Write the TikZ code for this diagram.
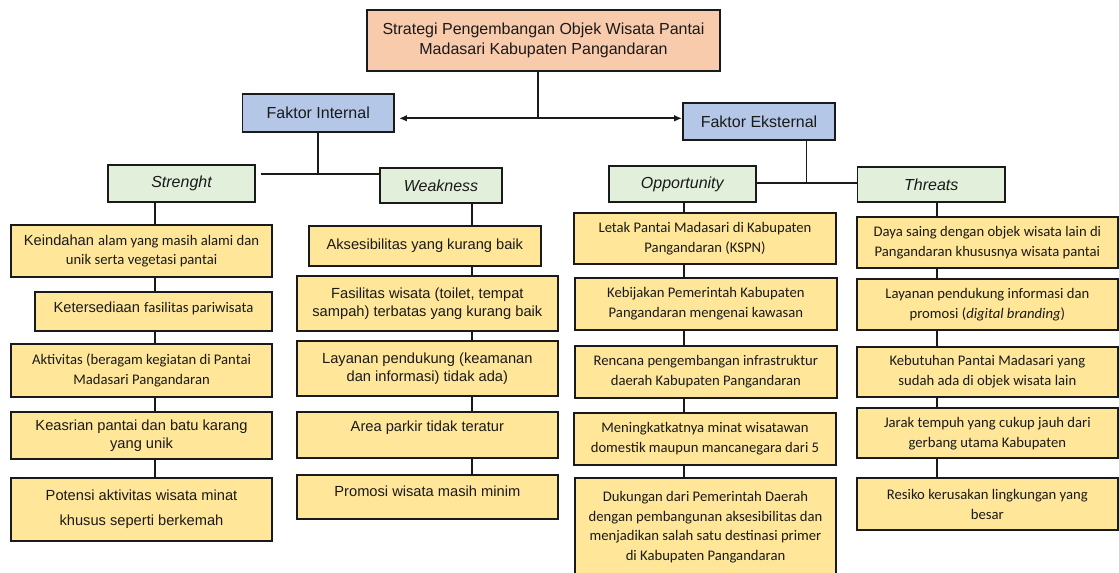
\documentclass[tikz,border=0pt]{standalone}
\usepackage{fontspec}
\setmainfont{Liberation Sans}
\newfontfamily\calibri{Carlito}
\usetikzlibrary{arrows.meta}
\definecolor{peach}{HTML}{F8CBAD}
\definecolor{bluebox}{HTML}{B4C7E7}
\definecolor{greenbox}{HTML}{E2EFDA}
\definecolor{yellowbox}{HTML}{FFE699}
\definecolor{ink}{HTML}{1A1A1A}
\tikzset{
  wh/.style 2 args={minimum width=#1*0.75pt, minimum height=#2*0.75pt},
  basebox/.style={draw=ink, line width=1.4pt, inner sep=0pt, align=center, text=ink},
  titlebox/.style={basebox, fill=peach, font=\fontsize{12}{15}\selectfont},
  factorbox/.style={basebox, fill=bluebox, font=\fontsize{12}{15}\selectfont},
  swotbox/.style={basebox, fill=greenbox, font=\fontsize{12}{15}\selectfont\itshape},
  itembox/.style={basebox, fill=yellowbox, font=\fontsize{11}{13.7}\selectfont},
  calbox/.style={basebox, fill=yellowbox, font=\calibri\fontsize{11}{15}\selectfont},
  conn/.style={draw=ink, line width=1.3pt},
  arr/.style={conn, -{Latex[length=6pt,width=5pt]}}
}
\begin{document}
\begin{tikzpicture}[x=0.75pt,y=-0.75pt]
\useasboundingbox (0,0) rectangle (1119,572);
\clip (0,0) rectangle (1119,572);

% top and factor nodes
\node[titlebox, wh={353}{61}] (top) at (543.5,40.5) {Strategi Pengembangan Objek Wisata Pantai\\Madasari Kabupaten Pangandaran};
\node[factorbox, wh={151.5}{38}] (fi) at (318.25,113) {Faktor Internal};
\node[factorbox, wh={152}{37}] (fe) at (759,121.5) {Faktor Eksternal};

\node[swotbox, wh={147}{37}] (st) at (181.5,183.5) {Strenght};
\node[swotbox, wh={122}{35}] (we) at (441,185.5) {Weakness};
\node[swotbox, wh={146.7}{36}] (op) at (682.3,184) {Opportunity};
\node[swotbox, wh={147.5}{35}] (th) at (931.25,184.5) {Threats};

% junction coordinates
\coordinate (j1) at (537.7,118.3);
\coordinate (j2) at (318.25,174);
\coordinate (j3) at (806.4,183);
\coordinate (cS) at (155,0);
\coordinate (cW) at (472.3,0);
\coordinate (cO) at (684.3,0);
\coordinate (cT) at (936.7,0);

% Strength items
\node[itembox, wh={261}{52}] (s1) at (141.5,251) {Keindahan {\calibri alam yang masih alami dan}\\[1pt]{\calibri unik serta vegetasi pantai}};
\node[itembox, wh={237}{39}] (s2) at (153.5,311.5) {\raisebox{2pt}[\height][\depth]{Ketersediaan {\calibri fasilitas pariwisata}}};
\node[calbox, wh={261}{53}] (s3) at (141.5,370.5) {Aktivitas (beragam kegiatan di Pantai\\Madasari Pangandaran};
\node[itembox, wh={261}{47}] (s4) at (141.5,435.5) {Keasrian pantai dan batu karang\\yang unik};
\node[itembox, wh={261}{63}, font=\fontsize{11}{18.75}\selectfont] (s5) at (141.5,509.5) {Potensi aktivitas wisata minat\\khusus seperti berkemah};

% Weakness items
\node[itembox, wh={231.7}{39.7}] (w1) at (424.85,245.85) {Aksesibilitas yang kurang baik};
\node[itembox, wh={261.3}{54.7}] (w2) at (427.35,303.35) {Fasilitas wisata (toilet, tempat\\sampah) terbatas yang kurang baik};
\node[itembox, wh={261.3}{54.7}] (w3) at (427.35,368.35) {Layanan pendukung (keamanan\\dan informasi) tidak ada)};
\node[itembox, wh={261.3}{46}] (w4) at (427.35,434.7) {\raisebox{5pt}[\height][\depth]{Area parkir tidak teratur}};
\node[itembox, wh={261.3}{44}] (w5) at (427.35,497) {\raisebox{4pt}[\height][\depth]{Promosi wisata masih minim}};

% Opportunity items
\node[calbox, wh={262}{51}] (o1) at (705,238.5) {Letak Pantai Madasari di Kabupaten\\Pangandaran (KSPN)};
\node[calbox, wh={261.7}{52}] (o2) at (705.85,304) {Kebijakan Pemerintah Kabupaten\\Pangandaran mengenai kawasan};
\node[calbox, wh={261.7}{51.7}] (o3) at (705.85,371.85) {Rencana pengembangan infrastruktur\\daerah Kabupaten Pangandaran};
\node[calbox, wh={262}{52}] (o4) at (705,439) {Meningkatkatnya minat wisatawan\\domestik maupun mancanegara dari 5};
\node[calbox, wh={261}{98}, font=\calibri\fontsize{11}{14.6}\selectfont] (o5) at (705.5,527) {Dukungan dari Pemerintah Daerah\\dengan pembangunan aksesibilitas dan\\menjadikan salah satu destinasi primer\\di Kabupaten Pangandaran};

% Threats items
\node[calbox, wh={261.3}{51}] (t1) at (987.35,242.2) {Daya saing dengan objek wisata lain di\\Pangandaran khususnya wisata pantai};
\node[calbox, wh={261.3}{51}] (t2) at (987.35,304.5) {Layanan pendukung informasi dan\\promosi (\textit{digital branding})};
\node[calbox, wh={261.3}{50.6}] (t3) at (987.35,372) {Kebutuhan Pantai Madasari yang\\sudah ada di objek wisata lain};
\node[calbox, wh={261.3}{50}] (t4) at (987.35,433.3) {Jarak tempuh yang cukup jauh dari\\gerbang utama Kabupaten};
\node[calbox, wh={261.3}{51.7}] (t5) at (987.35,504.15) {Resiko kerusakan lingkungan yang\\besar};

% connectors: top level
\draw[conn] (top.south -| j1) -- (j1);
\draw[arr] (j1) -- ([xshift=3pt]fi.east |- j1);
\draw[arr] (j1) -- (fe.west |- j1);

% internal branch
\draw[conn] (fi.south) -- (j2);
\draw[conn] ([xshift=3.5pt]st.east |- j2) -- (we.west |- j2);

% external branch
\draw[conn] (fe.south -| j3) -- (j3);
\draw[conn] (op.east |- j3) -- (th.west |- j3);

% columns
\foreach \a/\b in {st/s1,s1/s2,s2/s3,s3/s4,s4/s5}
  \draw[conn] (\a.south -| cS) -- (\b.north -| cS);
\foreach \a/\b in {we/w1,w1/w2,w2/w3,w3/w4,w4/w5}
  \draw[conn] (\a.south -| cW) -- (\b.north -| cW);
\foreach \a/\b in {op/o1,o1/o2,o2/o3,o3/o4,o4/o5}
  \draw[conn] (\a.south -| cO) -- (\b.north -| cO);
\foreach \a/\b in {th/t1,t1/t2,t2/t3,t3/t4,t4/t5}
  \draw[conn] (\a.south -| cT) -- (\b.north -| cT);
\end{tikzpicture}
\end{document}
